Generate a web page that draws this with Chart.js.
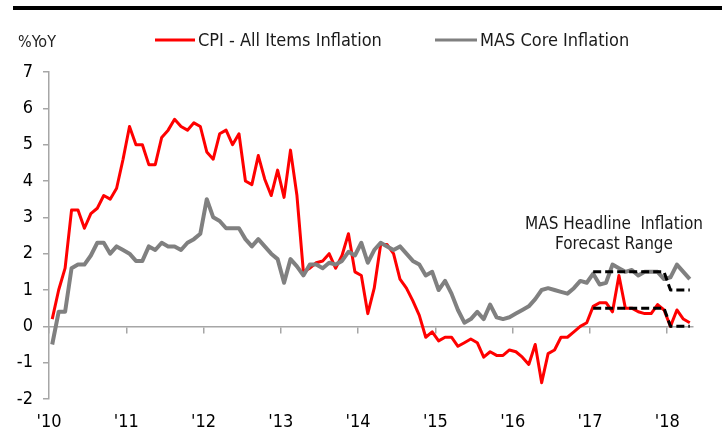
<!DOCTYPE html>
<html>
<head>
<meta charset="utf-8">
<script src="https://cdn.jsdelivr.net/npm/chart.js@4.4.0/dist/chart.umd.min.js"></script>
<style>
  body { margin: 0; background: #fff; }
  canvas { display: block; }
</style>
</head>
<body>
<canvas id="grafico" width="722" height="432"></canvas>
<script>
// Datos mensuales, ene 2010 - abr 2018 (% interanual)
const yearLabels = ["'10", "'11", "'12", "'13", "'14", "'15", "'16", "'17", "'18"];

const cpiInflation = [
    0.2, 1.0, 1.6, 3.2, 3.2, 2.7, 3.1, 3.25, 3.6, 3.5, 3.8, 4.6,
    5.5, 5.0, 5.0, 4.45, 4.45, 5.2, 5.4, 5.7, 5.5, 5.4, 5.6, 5.5,
    4.8, 4.6, 5.3, 5.4, 5.0, 5.3, 4.0, 3.9, 4.7, 4.05, 3.6, 4.3,
    3.55, 4.85, 3.6, 1.5, 1.6, 1.75, 1.8, 2.0, 1.6, 1.95, 2.55, 1.5,
    1.4, 0.35, 1.05, 2.25, 2.25, 2.0, 1.3, 1.05, 0.7, 0.3, -0.3, -0.15,
    -0.4, -0.3, -0.3, -0.55, -0.45, -0.35, -0.45, -0.85, -0.7, -0.8, -0.8, -0.65,
    -0.7, -0.85, -1.05, -0.5, -1.55, -0.75, -0.65, -0.3, -0.3, -0.15, 0.0, 0.1,
    0.55, 0.65, 0.65, 0.4, 1.4, 0.5, 0.5, 0.4, 0.35, 0.35, 0.6, 0.45,
    0.0, 0.45, 0.2, 0.1
];

const coreInflation = [
    -0.5, 0.4, 0.4, 1.6, 1.7, 1.7, 1.95, 2.3, 2.3, 2.0, 2.2, 2.1,
    2.0, 1.8, 1.8, 2.2, 2.1, 2.3, 2.2, 2.2, 2.1, 2.3, 2.4, 2.55,
    3.5, 3.0, 2.9, 2.7, 2.7, 2.7, 2.4, 2.2, 2.4, 2.2, 2.0, 1.85,
    1.2, 1.85, 1.65, 1.4, 1.7, 1.7, 1.6, 1.75, 1.7, 1.8, 2.05, 1.95,
    2.3, 1.75, 2.1, 2.3, 2.2, 2.1, 2.2, 2.0, 1.8, 1.7, 1.4, 1.5,
    1.0, 1.25, 0.9, 0.45, 0.1, 0.2, 0.4, 0.2, 0.6, 0.25, 0.2, 0.25,
    0.35, 0.45, 0.55, 0.75, 1.0, 1.05, 1.0, 0.95, 0.9, 1.05, 1.25, 1.2,
    1.45, 1.15, 1.2, 1.7, 1.6, 1.5, 1.55, 1.4, 1.5, 1.5, 1.5, 1.3,
    1.35, 1.7, 1.5, 1.3
];

// Rango de previsión MAS (desde ene 2017)
const rangeStart = 84;
const rangeHigh = [1.5, 1.5, 1.5, 1.5, 1.5, 1.5, 1.5, 1.5, 1.5, 1.5, 1.5, 1.5, 1.0, 1.0, 1.0, 1.0];
const rangeLow = [0.5, 0.5, 0.5, 0.5, 0.5, 0.5, 0.5, 0.5, 0.5, 0.5, 0.5, 0.5, 0.0, 0.0, 0.0, 0.0];

const FONT = "'DejaVu Sans Condensed', 'Liberation Sans', sans-serif";
const AXIS_GRAY = '#a6a6a6';

const toPoints = (arr, start = 0) => arr.map((v, i) => ({ x: start + i, y: v }));
const yearTicks = yearLabels.map((_, i) => -0.5 + 12 * i);
const setYearTicks = scale => { scale.ticks = yearTicks.map(v => ({ value: v })); };

// Barra superior, unidad, leyenda y texto del rango
const decoraciones = {
    id: 'decoraciones',
    afterDraw(chart) {
        const ctx = chart.ctx;
        ctx.save();
        ctx.fillStyle = '#000';
        ctx.fillRect(13, 6, 709, 4);

        ctx.fillStyle = '#222';
        ctx.textBaseline = 'middle';
        ctx.textAlign = 'left';
        ctx.font = '16px ' + FONT;
        ctx.fillText('%YoY', 18, 43);

        const items = [
            { ds: chart.data.datasets[0], x0: 155, x1: 195, tx: 198 },
            { ds: chart.data.datasets[1], x0: 435, x1: 477, tx: 480 }
        ];
        ctx.font = '18px ' + FONT;
        items.forEach(it => {
            ctx.strokeStyle = it.ds.borderColor;
            ctx.lineWidth = 3;
            ctx.beginPath();
            ctx.moveTo(it.x0, 40);
            ctx.lineTo(it.x1, 40);
            ctx.stroke();
            ctx.fillStyle = '#1a1a1a';
            ctx.fillText(it.ds.label, it.tx, 41);
        });

        ctx.font = '17px ' + FONT;
        ctx.textAlign = 'center';
        ctx.fillText('MAS Headline  Inflation', 614, 225);
        ctx.fillText('Forecast Range', 614, 245);
        ctx.restore();
    }
};

const lineaBase = { pointRadius: 0, tension: 0, fill: false, borderJoinStyle: 'round' };

new Chart(document.getElementById('grafico').getContext('2d'), {
    type: 'line',
    data: {
        datasets: [
            Object.assign({
                label: 'CPI - All Items Inflation',
                data: toPoints(cpiInflation),
                borderColor: '#ff0000',
                borderWidth: 3,
                order: 3
            }, lineaBase),
            Object.assign({
                label: 'MAS Core Inflation',
                data: toPoints(coreInflation),
                borderColor: '#808080',
                borderWidth: 4,
                order: 2
            }, lineaBase),
            Object.assign({
                label: 'Range high',
                data: toPoints(rangeHigh, rangeStart),
                borderColor: '#000',
                borderWidth: 3,
                borderDash: [8, 4],
                order: 1
            }, lineaBase),
            Object.assign({
                label: 'Range low',
                data: toPoints(rangeLow, rangeStart),
                borderColor: '#000',
                borderWidth: 3,
                borderDash: [8, 4],
                order: 1
            }, lineaBase)
        ]
    },
    options: {
        responsive: false,
        animation: false,
        layout: { padding: { top: 72, right: 29, left: 0, bottom: 0 } },
        plugins: {
            legend: { display: false },
            tooltip: { enabled: false }
        },
        scales: {
            x: {
                type: 'linear',
                position: 'bottom',
                min: -0.5,
                max: 99.5,
                afterBuildTicks: setYearTicks,
                afterFit: s => { s.height = 33; },
                ticks: {
                    callback: (v, i) => yearLabels[i],
                    autoSkip: false,
                    maxRotation: 0,
                    padding: 13,
                    color: '#000',
                    font: { family: FONT, size: 18 }
                },
                grid: { display: false, drawTicks: false },
                border: { display: false }
            },
            x0: {
                type: 'linear',
                display: true,
                position: { y: 0 },
                min: -0.5,
                max: 99.5,
                afterBuildTicks: setYearTicks,
                ticks: { display: false },
                grid: { drawOnChartArea: false, drawTicks: true, tickLength: 6, color: AXIS_GRAY, lineWidth: 1.5 },
                border: { color: AXIS_GRAY, width: 1.5 }
            },
            y: {
                min: -2,
                max: 7,
                afterFit: s => { s.width = 49; },
                ticks: {
                    stepSize: 1,
                    padding: 10,
                    color: '#000',
                    font: { family: FONT, size: 18 }
                },
                grid: { drawOnChartArea: false, tickLength: 6, color: AXIS_GRAY, lineWidth: 1.5 },
                border: { color: AXIS_GRAY, width: 1.5 }
            }
        }
    },
    plugins: [decoraciones]
});
</script>
</body>
</html>
